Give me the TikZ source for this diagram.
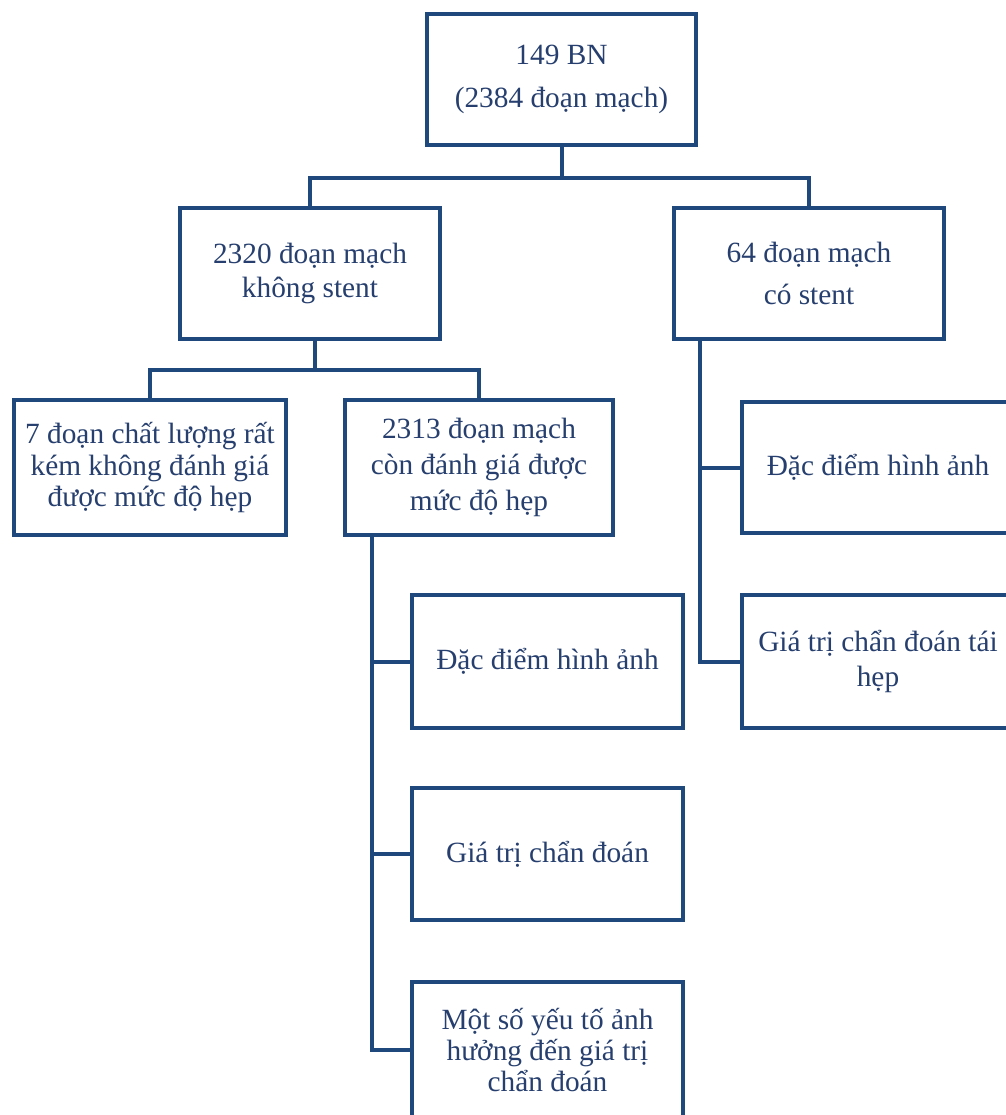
\documentclass[tikz,border=0pt]{standalone}
\usepackage{fontspec}
\setmainfont{Liberation Serif}
\definecolor{dblue}{HTML}{1F497D}
\definecolor{tblue}{HTML}{263F6E}
\begin{document}
\begin{tikzpicture}[x=0.75pt,y=-0.75pt,
  box/.style={draw=dblue,line width=3pt,fill=white,align=center,text=tblue,
    font=\fontsize{22pt}{26pt}\selectfont,inner sep=0pt},
  link/.style={draw=dblue,line width=3pt,line cap=rect}]
\useasboundingbox (0,0) rectangle (1006,1115);
\clip (0,0) rectangle (1006,1115);
\fill[white] (0,0) rectangle (1006,1115);
% nodes
\node[box,minimum width=201.75pt,minimum height=98.25pt,font=\fontsize{22pt}{32pt}\selectfont] (top) at (561.5,79.5) {149 BN\\(2384 đoạn mạch)};
\node[box,minimum width=195pt,minimum height=98.25pt] (A) at (310,273.5) {2320 đoạn mạch\\không stent};
\node[box,minimum width=202.5pt,minimum height=98.25pt,font=\fontsize{22pt}{31.5pt}\selectfont] (B) at (809,273.5) {64 đoạn mạch\\có stent};
\node[box,minimum width=204pt,minimum height=101.25pt,font=\fontsize{22pt}{23.6pt}\selectfont] (C) at (150,467.5) {7 đoạn chất lượng rất\\kém không đánh giá\\được mức độ hẹp};
\node[box,minimum width=201pt,minimum height=101.25pt,font=\fontsize{22pt}{27pt}\selectfont] (D) at (479,467.5) {2313 đoạn mạch\\còn đánh giá được\\mức độ hẹp};
\node[box,minimum width=204pt,minimum height=98.25pt] (E) at (878,467.5) {Đặc điểm hình ảnh};
\node[box,minimum width=204pt,minimum height=99.75pt] (F) at (878,661.5) {Giá trị chẩn đoán tái\\hẹp};
\node[box,minimum width=203.25pt,minimum height=99.75pt] (G) at (547.5,661.5) {Đặc điểm hình ảnh};
\node[box,minimum width=203.25pt,minimum height=99pt] (H) at (547.5,854) {Giá trị chẩn đoán};
\node[box,minimum width=203.25pt,minimum height=102pt,font=\fontsize{22pt}{23.6pt}\selectfont] (I) at (547.5,1050) {Một số yếu tố ảnh\\hưởng đến giá trị\\chẩn đoán};
% junction coordinates
\coordinate (j1) at (561.5,178);
\coordinate (j2) at (315,370);
\coordinate (dtrunk) at (372,0);
\coordinate (btrunk) at (700,0);
% connectors
\draw[link] (top.south) -- (j1);
\draw[link] (j1) -| (A.north);
\draw[link] (j1) -| (B.north);
\draw[link] (j2 |- A.south) -- (j2);
\draw[link] (j2) -| (C.north);
\draw[link] (j2) -| (D.north);
\draw[link] (dtrunk |- D.south) |- (I.west);
\draw[link] (dtrunk |- G.west) -- (G.west);
\draw[link] (dtrunk |- H.west) -- (H.west);
\draw[link] (btrunk |- B.south) |- (F.west);
\draw[link] (btrunk |- E.west) -- (E.west);
\end{tikzpicture}
\end{document}
